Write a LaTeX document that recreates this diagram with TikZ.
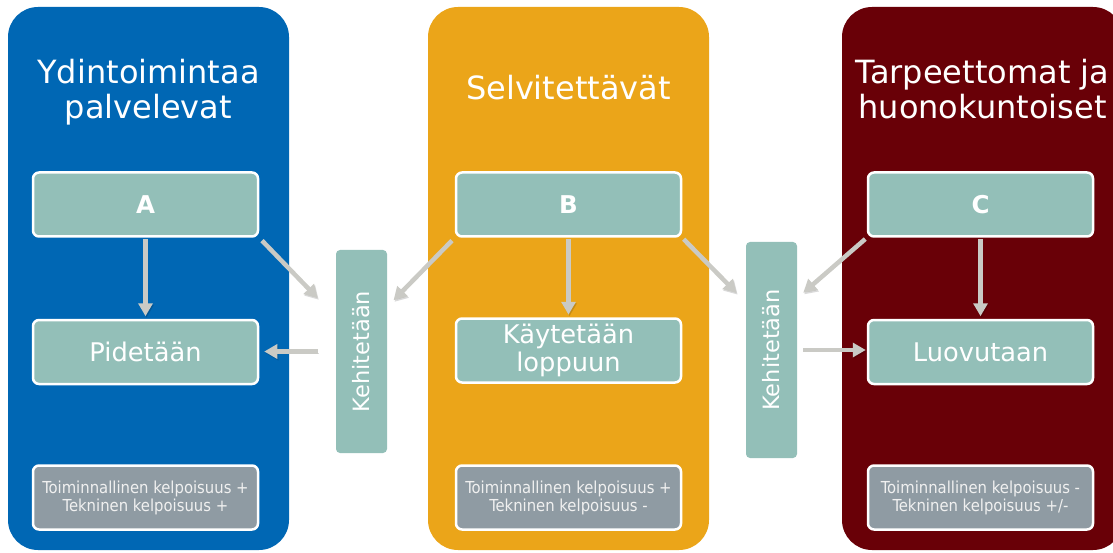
\documentclass[tikz,border=0pt]{standalone}
\usepackage{fontspec}
\usepackage{graphicx}
\setmainfont{DejaVu Sans}
\newfontfamily\smallfont{DejaVu Sans Condensed}
\usetikzlibrary{arrows.meta,calc}
\definecolor{panelblue}{HTML}{0067B4}
\definecolor{panelorange}{HTML}{EBA519}
\definecolor{panelred}{HTML}{690007}
\definecolor{boxteal}{HTML}{93BFB8}
\definecolor{boxgray}{HTML}{8F9BA3}
\definecolor{arrowgray}{HTML}{CACAC5}
\begin{document}
\begin{tikzpicture}[x=1pt,y=-1pt,
  panel/.style={rounded corners=30pt},
  title/.style={text=white, font=\fontsize{32}{35}\selectfont, align=center, inner sep=0pt},
  tealbox/.style={draw=white, line width=2.5pt, fill=boxteal, rounded corners=6pt,
    minimum width=225pt, minimum height=64pt, inner sep=0pt, text=white,
    font=\fontsize{25.7}{28}\selectfont, align=center},
  letterbox/.style={tealbox, font=\fontsize{24.5}{28}\selectfont\bfseries},
  infobox/.style={tealbox, fill=boxgray, text=white!94!black,
    font=\smallfont\fontsize{16.5}{18}\selectfont},
  devbox/.style={fill=boxteal, rounded corners=4pt, inner sep=0pt, minimum width=51pt,
    text=white, font=\fontsize{22.5}{24}\selectfont},
  arr/.style={draw=arrowgray, line width=4.5pt, -{Triangle[length=13pt,width=14pt]},
    preaction={draw=black, opacity=0.15, transform canvas={shift={(1pt,-1.5pt)}}}},
]
\useasboundingbox (0,0) rectangle (1113,553);
\clip (0,0) rectangle (1113,553);

% column backgrounds
\fill[panelblue, panel] (8,7) rectangle (289,550);
\fill[panelorange, panel] (428,7) rectangle (709,550);
\fill[panelred, panel] (842,7) rectangle (1123,550);

% column titles
\node[title] (t1) at (148.5,92) {Ydintoimintaa\\palvelevat};
\node[title, anchor=base] (t2) at (568.5,100) {Selvitettävät};
\node[title] (t3) at (982.5,89) {Tarpeettomat ja\\huonokuntoiset};

% first column
\node[letterbox] (A) at (145.5,204.5) {A};
\node[tealbox] (Pid) at (145.5,352) {Pidetään};
\node[infobox] (i1) at (145.5,497.5) {Toiminnallinen kelpoisuus +\\Tekninen kelpoisuus +};

% second column
\node[letterbox] (B) at (568.5,204.5) {B};
\node[tealbox] (Kay) at (568.5,350.5) {Käytetään\\loppuun};
\node[infobox] (i2) at (568.5,497.5) {Toiminnallinen kelpoisuus +\\Tekninen kelpoisuus -};

% third column
\node[letterbox] (C) at (980.5,204.5) {C};
\node[tealbox] (Luov) at (980.5,352) {Luovutaan};
\node[infobox] (i3) at (980.5,497.5) {Toiminnallinen kelpoisuus -\\Tekninen kelpoisuus +/-};

% development boxes between the columns
\node[devbox, minimum height=203pt] (kehL) at (361.5,351.5) {\rotatebox{90}{Kehitetään}};
\node[devbox, minimum height=216pt] (kehR) at (771.5,350) {\rotatebox{90}{Kehitetään}};

% flows
\draw[arr, shorten <=1.5pt, shorten >=2.5pt] (A) -- (Pid);
\draw[arr, shorten <=1.5pt, shorten >=2.5pt] (B) -- (Kay);
\draw[arr, shorten <=1.5pt, shorten >=2.5pt] (C) -- (Luov);
\draw[arr, shorten <=4pt, shorten >=26pt] (A.south east) -- ($(kehL.north west)!0.33!(kehL.south west)$);
\draw[arr, shorten <=4pt, shorten >=9pt] (B.south west) -- ($(kehL.north east)!0.28!(kehL.south east)$);
\draw[arr, shorten <=18pt, shorten >=5pt] (kehL.west) -- (kehL.west -| Pid.east);
\draw[arr, shorten <=2pt, shorten >=13pt] (B.south east) -- ($(kehR.north west)!0.28!(kehR.south west)$);
\draw[arr, shorten <=2pt, shorten >=8pt] (C.south west) -- ($(kehR.north east)!0.26!(kehR.south east)$);
\draw[arr, shorten <=6pt, shorten >=1pt] (kehR.east) -- (kehR.east -| Luov.west);
\end{tikzpicture}
\end{document}
